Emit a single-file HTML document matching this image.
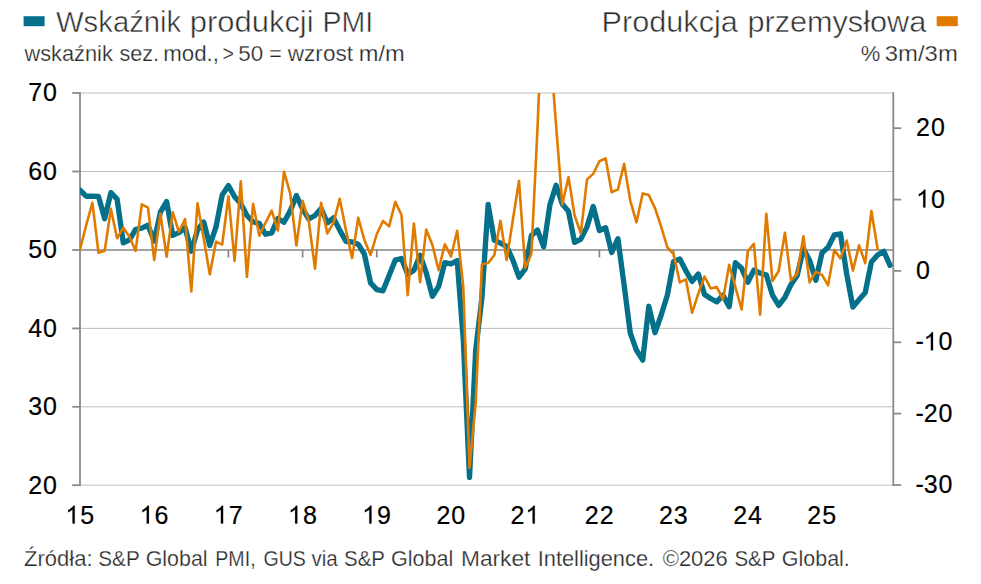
<!DOCTYPE html>
<html><head><meta charset="utf-8"><title>Chart</title>
<style>
html,body{margin:0;padding:0;background:#fff;}
body{width:981px;height:584px;overflow:hidden;font-family:"Liberation Sans",sans-serif;}
svg{display:block}
text{font-family:"Liberation Sans",sans-serif;}
.ax{font-size:25px;fill:#000;stroke:#000;stroke-width:0.2px;}
.ax path{stroke-width:16px;}
.ttl{font-size:29.4px;fill:#2e2e2e;stroke:#fff;stroke-width:0.5px;}
.sub{font-size:21.5px;fill:#282828;stroke:#fff;stroke-width:0.25px;}
</style></head><body>
<svg width="981" height="584" viewBox="0 0 981 584">
<defs><clipPath id="plot"><rect x="80" y="93" width="816" height="395"/></clipPath></defs>
<rect width="981" height="584" fill="#fff"/>
<!-- legend -->
<rect x="23.6" y="16.2" width="21" height="10" fill="#05708a"/>
<text class="ttl" x="56.0" y="32.1" textLength="125.2" lengthAdjust="spacingAndGlyphs">Wskaźnik</text><text class="ttl" x="189.8" y="32.1" textLength="123.8" lengthAdjust="spacingAndGlyphs">produkcji</text><text class="ttl" x="322.6" y="32.1" textLength="50.6" lengthAdjust="spacingAndGlyphs">PMI</text>
<text class="sub" x="24.4" y="61.0" textLength="88.4" lengthAdjust="spacingAndGlyphs">wskaźnik</text><text class="sub" x="119.4" y="61.0" textLength="39.6" lengthAdjust="spacingAndGlyphs">sez.</text><text class="sub" x="163.2" y="61.0" textLength="55.8" lengthAdjust="spacingAndGlyphs">mod.,</text><text class="sub" x="222.6" y="61.0" textLength="11.4" lengthAdjust="spacingAndGlyphs">&gt;</text><text class="sub" x="238.3" y="61.0" textLength="24.9" lengthAdjust="spacingAndGlyphs">50</text><text class="sub" x="269.3" y="61.0" textLength="12.5" lengthAdjust="spacingAndGlyphs">=</text><text class="sub" x="287.8" y="61.0" textLength="65.2" lengthAdjust="spacingAndGlyphs">wzrost</text><text class="sub" x="358.8" y="61.0" textLength="46.0" lengthAdjust="spacingAndGlyphs">m/m</text>
<text class="ttl" x="601.6" y="32.1" textLength="136.2" lengthAdjust="spacingAndGlyphs">Produkcja</text><text class="ttl" x="747.4" y="32.1" textLength="178.8" lengthAdjust="spacingAndGlyphs">przemysłowa</text>
<rect x="936.7" y="16.2" width="21.1" height="10" fill="#e07b00"/>
<text class="sub" x="860.8" y="61.0" textLength="19.6" lengthAdjust="spacingAndGlyphs">%</text><text class="sub" x="884.8" y="61.0" textLength="73.0" lengthAdjust="spacingAndGlyphs">3m/3m</text>
<!-- gridlines -->
<g stroke="#bfbfbf" stroke-width="1" fill="none">
<line x1="80" x2="893.3" y1="93" y2="93"/>
<line x1="80" x2="893.3" y1="171.5" y2="171.5"/>
<line x1="80" x2="893.3" y1="328.4" y2="328.4"/>
<line x1="80" x2="893.3" y1="406.8" y2="406.8"/>
<line x1="80" x2="893.3" y1="485.2" y2="485.2"/>
</g>
<!-- 50 line + ticks -->
<g stroke="#858585" stroke-width="1.7" fill="none">
<line x1="80" x2="893.3" y1="250" y2="250"/>
<line x1="154.2" x2="154.2" y1="250" y2="257.5"/><line x1="228.4" x2="228.4" y1="250" y2="257.5"/><line x1="302.6" x2="302.6" y1="250" y2="257.5"/><line x1="376.8" x2="376.8" y1="250" y2="257.5"/><line x1="451.0" x2="451.0" y1="250" y2="257.5"/><line x1="525.2" x2="525.2" y1="250" y2="257.5"/><line x1="599.4" x2="599.4" y1="250" y2="257.5"/><line x1="673.6" x2="673.6" y1="250" y2="257.5"/><line x1="747.8" x2="747.8" y1="250" y2="257.5"/><line x1="822.0" x2="822.0" y1="250" y2="257.5"/>
</g>
<!-- axes -->
<g stroke="#8a8a8a" stroke-width="1.8" fill="none" stroke-linejoin="round">
<line x1="80" x2="80" y1="92.2" y2="486"/>
<line x1="893.3" x2="893.3" y1="92.2" y2="486"/>
<line x1="72.2" x2="80" y1="93.0" y2="93.0"/><line x1="72.2" x2="80" y1="171.5" y2="171.5"/><line x1="72.2" x2="80" y1="250.0" y2="250.0"/><line x1="72.2" x2="80" y1="328.4" y2="328.4"/><line x1="72.2" x2="80" y1="406.8" y2="406.8"/><line x1="72.2" x2="80" y1="485.2" y2="485.2"/><line x1="893.3" x2="901.2" y1="128.2" y2="128.2"/><line x1="893.3" x2="901.2" y1="199.6" y2="199.6"/><line x1="893.3" x2="901.2" y1="270.9" y2="270.9"/><line x1="893.3" x2="901.2" y1="342.3" y2="342.3"/><line x1="893.3" x2="901.2" y1="413.6" y2="413.6"/><line x1="893.3" x2="901.2" y1="485.0" y2="485.0"/>
</g>
<!-- series -->
<g clip-path="url(#plot)" fill="none" stroke-linejoin="round" stroke-linecap="round">
<polyline stroke="#05708a" stroke-width="5.35" points="80.0,190.2 86.2,196.2 92.4,196.2 98.5,196.4 104.7,218.7 110.9,192.6 117.1,199.1 123.3,242.8 129.5,239.8 135.6,229.3 141.8,228.2 148.0,225.2 154.2,241.0 160.4,212.2 166.6,201.6 172.7,235.4 178.9,232.6 185.1,227.7 191.3,251.2 197.5,230.0 203.7,222.0 209.8,245.5 216.0,226.9 222.2,195.0 228.4,185.6 234.6,196.7 240.8,203.7 246.9,215.5 253.1,222.0 259.3,223.3 265.5,234.2 271.7,232.9 277.9,218.4 284.0,222.3 290.2,210.9 296.4,195.6 302.6,208.9 308.8,219.0 315.0,215.5 321.1,208.6 327.3,222.8 333.5,217.9 339.7,230.1 345.9,241.3 352.1,242.0 358.2,244.2 364.4,254.2 370.6,282.9 376.8,289.6 383.0,290.8 389.1,275.6 395.3,260.1 401.5,258.5 407.7,274.3 413.9,270.2 420.1,255.2 426.2,272.6 432.4,296.3 438.6,286.5 444.8,262.6 451.0,263.8 457.2,260.5 463.3,340.0 469.5,477.5 475.7,350.0 481.9,298.0 488.1,204.4 494.3,240.2 500.4,243.2 506.6,246.4 512.8,259.8 519.0,277.2 525.2,269.0 531.4,235.6 537.5,230.1 543.7,246.8 549.9,204.9 556.1,185.3 562.3,204.0 568.5,211.4 574.6,242.4 580.8,239.1 587.0,226.9 593.2,206.5 599.4,230.5 605.6,227.7 611.7,252.5 617.9,238.7 624.1,285.0 630.3,333.2 636.5,350.3 642.7,360.1 648.8,306.3 655.0,332.7 661.2,315.0 667.4,295.0 673.6,261.5 679.8,259.0 685.9,270.8 692.1,281.4 698.3,274.0 704.5,294.4 710.7,298.5 716.8,301.8 723.0,295.2 729.2,306.7 735.4,262.6 741.6,268.3 747.8,282.2 753.9,270.1 760.1,273.2 766.3,274.8 772.5,295.2 778.7,305.4 784.9,297.4 791.0,284.5 797.2,275.5 803.4,248.8 809.6,260.4 815.8,280.3 822.0,252.9 828.1,247.2 834.3,235.0 840.5,233.8 846.7,274.0 852.9,307.0 859.1,299.6 865.2,292.6 871.4,262.0 877.6,255.0 883.8,251.2 890.0,265.3"/>
<polyline stroke="#e07b00" stroke-width="2.6" points="80.0,249.4 86.2,225.2 92.4,202.7 98.5,252.8 104.7,250.8 110.9,208.9 117.1,238.3 123.3,227.7 129.5,236.7 135.6,250.8 141.8,204.4 148.0,207.6 154.2,260.1 160.4,213.5 166.6,256.8 172.7,212.2 178.9,231.8 185.1,219.0 191.3,291.5 197.5,203.2 203.7,238.5 209.8,274.4 216.0,241.7 222.2,244.7 228.4,196.2 234.6,260.9 240.8,181.2 246.9,276.9 253.1,203.7 259.3,235.8 265.5,222.8 271.7,210.6 277.9,230.5 284.0,171.7 290.2,193.4 296.4,245.5 302.6,200.8 308.8,221.2 315.0,268.7 321.1,202.7 327.3,233.4 333.5,222.8 339.7,198.8 345.9,230.0 352.1,258.1 358.2,217.9 364.4,240.0 370.6,255.0 376.8,234.0 383.0,221.0 389.1,226.4 395.3,201.9 401.5,215.0 407.7,295.1 413.9,223.6 420.1,282.1 426.2,229.6 432.4,245.0 438.6,270.2 444.8,244.2 451.0,256.4 457.2,230.8 463.3,287.0 469.5,467.6 475.7,403.0 481.9,264.6 488.1,263.1 494.3,255.2 500.4,220.7 506.6,260.1 512.8,220.3 519.0,180.7 525.2,267.8 531.4,253.8 537.5,128.0 543.7,-23.0 549.9,43.5 556.1,125.5 562.3,204.4 568.5,177.1 574.6,215.5 580.8,233.4 587.0,179.4 593.2,173.9 599.4,161.3 605.6,158.4 611.7,192.3 617.9,189.4 624.1,163.8 630.3,200.8 636.5,222.3 642.7,193.4 648.8,195.1 655.0,208.1 661.2,226.9 667.4,247.5 673.6,254.0 679.8,282.4 685.9,279.4 692.1,312.8 698.3,293.6 704.5,276.5 710.7,288.4 716.8,287.1 723.0,299.3 729.2,264.8 735.4,287.0 741.6,309.5 747.8,251.4 753.9,243.8 760.1,314.6 766.3,213.7 772.5,281.0 778.7,271.0 784.9,232.7 791.0,280.3 797.2,274.0 803.4,236.2 809.6,282.4 815.8,271.7 822.0,274.9 828.1,285.4 834.3,250.0 840.5,258.5 846.7,240.6 852.9,270.6 859.1,245.3 865.2,263.2 871.4,211.0 877.6,248.8"/>
</g>
<!-- labels -->
<g class="ax">
<text x="28.20" y="101.30">7</text><text x="43.10" y="101.30">0</text><text x="28.20" y="179.80">6</text><text x="43.10" y="179.80">0</text><text x="28.20" y="258.30">5</text><text x="43.10" y="258.30">0</text><text x="28.20" y="336.70">4</text><text x="43.10" y="336.70">0</text><text x="28.20" y="415.10">3</text><text x="43.10" y="415.10">0</text><text x="28.20" y="493.50">2</text><text x="43.10" y="493.50">0</text>
</g>
<g class="ax">
<text x="916.10" y="136.20">2</text><text x="931.00" y="136.20">0</text><path transform="translate(916.10,207.60) scale(0.01221,-0.01221)" d="M763 0H583V1147Q518 1085 412.5 1023T223 930V1104Q374 1175 487 1276T647 1472H763Z"/><text x="931.00" y="207.60">0</text><text x="916.10" y="278.90">0</text><text x="915.40" y="350.30">-</text><path transform="translate(923.73,350.30) scale(0.01221,-0.01221)" d="M763 0H583V1147Q518 1085 412.5 1023T223 930V1104Q374 1175 487 1276T647 1472H763Z"/><text x="938.62" y="350.30">0</text><text x="915.40" y="421.60">-</text><text x="923.73" y="421.60">2</text><text x="938.62" y="421.60">0</text><text x="915.40" y="493.00">-</text><text x="923.73" y="493.00">3</text><text x="938.62" y="493.00">0</text>
</g>
<g class="ax">
<path transform="translate(65.40,523.60) scale(0.01221,-0.01221)" d="M763 0H583V1147Q518 1085 412.5 1023T223 930V1104Q374 1175 487 1276T647 1472H763Z"/><text x="80.30" y="523.60">5</text><path transform="translate(139.60,523.60) scale(0.01221,-0.01221)" d="M763 0H583V1147Q518 1085 412.5 1023T223 930V1104Q374 1175 487 1276T647 1472H763Z"/><text x="154.50" y="523.60">6</text><path transform="translate(213.79,523.60) scale(0.01221,-0.01221)" d="M763 0H583V1147Q518 1085 412.5 1023T223 930V1104Q374 1175 487 1276T647 1472H763Z"/><text x="228.69" y="523.60">7</text><path transform="translate(287.99,523.60) scale(0.01221,-0.01221)" d="M763 0H583V1147Q518 1085 412.5 1023T223 930V1104Q374 1175 487 1276T647 1472H763Z"/><text x="302.89" y="523.60">8</text><path transform="translate(362.18,523.60) scale(0.01221,-0.01221)" d="M763 0H583V1147Q518 1085 412.5 1023T223 930V1104Q374 1175 487 1276T647 1472H763Z"/><text x="377.08" y="523.60">9</text><text x="436.38" y="523.60">2</text><text x="451.28" y="523.60">0</text><text x="510.58" y="523.60">2</text><path transform="translate(525.48,523.60) scale(0.01221,-0.01221)" d="M763 0H583V1147Q518 1085 412.5 1023T223 930V1104Q374 1175 487 1276T647 1472H763Z"/><text x="584.77" y="523.60">2</text><text x="599.67" y="523.60">2</text><text x="658.97" y="523.60">2</text><text x="673.87" y="523.60">3</text><text x="733.16" y="523.60">2</text><text x="748.06" y="523.60">4</text><text x="807.36" y="523.60">2</text><text x="822.26" y="523.60">5</text>
</g>
<text class="sub" x="24.1" y="565.6" textLength="68.5" lengthAdjust="spacingAndGlyphs">Źródła:</text><text class="sub" x="98.3" y="565.6" textLength="41.4" lengthAdjust="spacingAndGlyphs">S&amp;P</text><text class="sub" x="145.7" y="565.6" textLength="61.9" lengthAdjust="spacingAndGlyphs">Global</text><text class="sub" x="215.3" y="565.6" textLength="40.3" lengthAdjust="spacingAndGlyphs">PMI,</text><text class="sub" x="263.5" y="565.6" textLength="42.3" lengthAdjust="spacingAndGlyphs">GUS</text><text class="sub" x="311.5" y="565.6" textLength="26.3" lengthAdjust="spacingAndGlyphs">via</text><text class="sub" x="344.0" y="565.6" textLength="40.9" lengthAdjust="spacingAndGlyphs">S&amp;P</text><text class="sub" x="391.1" y="565.6" textLength="62.2" lengthAdjust="spacingAndGlyphs">Global</text><text class="sub" x="461.0" y="565.6" textLength="69.4" lengthAdjust="spacingAndGlyphs">Market</text><text class="sub" x="537.7" y="565.6" textLength="116.4" lengthAdjust="spacingAndGlyphs">Intelligence.</text><text class="sub" x="662.7" y="565.6" textLength="65.1" lengthAdjust="spacingAndGlyphs">©2026</text><text class="sub" x="734.4" y="565.6" textLength="41.1" lengthAdjust="spacingAndGlyphs">S&amp;P</text><text class="sub" x="781.8" y="565.6" textLength="68.0" lengthAdjust="spacingAndGlyphs">Global.</text>
</svg>
</body></html>
